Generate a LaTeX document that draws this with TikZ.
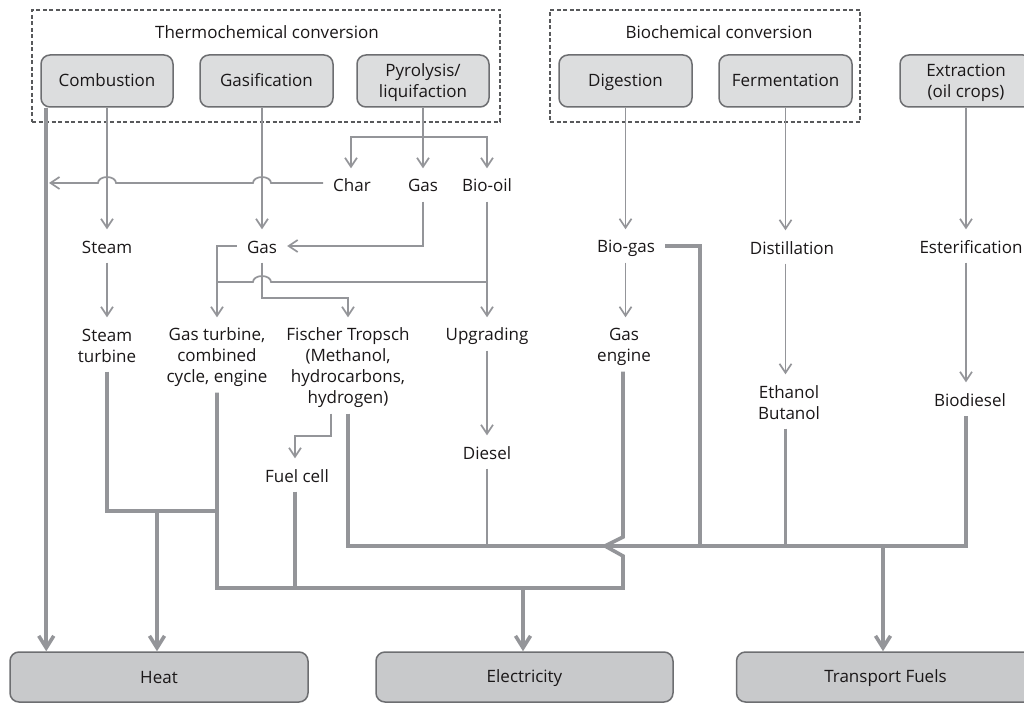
\documentclass[tikz,border=0pt]{standalone}
\usepackage{fontspec}
\setmainfont{Open Sans}
\usetikzlibrary{arrows.meta,calc}
\definecolor{ln}{HTML}{949599}
\definecolor{bd}{HTML}{6D6E71}
\definecolor{fa}{HTML}{DCDDDE}
\definecolor{fb}{HTML}{C8C9CB}
\definecolor{tx}{HTML}{1A1718}
\definecolor{ds}{HTML}{58595B}
\newcommand\lstr{\rule[-4pt]{0pt}{22pt}}
\newcommand\bstr{\rule[-4pt]{0pt}{20pt}}
\begin{document}
\setlength{\lineskiplimit}{-30pt}
\begin{tikzpicture}[x=1pt,y=-1pt,
  every node/.style={text=tx, font=\fontsize{17}{21}\selectfont},
  lbl/.style={align=center, inner xsep=10pt, inner ysep=5.5pt},
  procbox/.style={draw=bd, line width=1.5pt, fill=fa, rounded corners=9pt, minimum width=132pt, minimum height=52pt, align=center, inner sep=0pt},
  outbox/.style={procbox, fill=fb, minimum width=298pt, minimum height=50pt},
  group/.style={draw=ds, line width=1.2pt, dash pattern=on 4pt off 2.5pt, minimum height=112pt, inner sep=0pt},
  flow/.style={draw=ln, line width=1.7pt},
  flowarr/.style={flow, -{Straight Barb[length=9pt,width=12pt]}},
  main/.style={draw=ln, line width=3.6pt},
  mainarr/.style={main, -{Straight Barb[length=12pt,width=15pt]}}
]
\useasboundingbox (0,0) rectangle (1024,703);
\clip (0,0) rectangle (1024,703);

% groups
\node[group, minimum width=468pt] (thermo) at (266,66) {};
\node[group, minimum width=310pt] (bio) at (705,66) {};
\node (thermot) at (267,33) {Thermochemical conversion\bstr};
\node (biot) at (719,33) {Biochemical conversion\bstr};

% process boxes
\node[procbox] (comb) at (107,81) {Combustion\bstr};
\node[procbox, minimum width=133pt] (gasif) at (266.5,81) {Gasification\bstr};
\node[procbox] (pyro) at (423,81) {Pyrolysis/\bstr\\liquifaction\bstr};
\node[procbox, minimum width=133pt] (dig) at (625.5,81) {Digestion\bstr};
\node[procbox, minimum width=133pt] (ferm) at (785.5,81) {Fermentation\bstr};
\node[procbox] (ext) at (966,81) {Extraction\bstr\\(oil crops)\bstr};

% labels
\node[lbl] (char) at (352,185) {Char\lstr};
\node[lbl] (gasa) at (423,185) {Gas\lstr};
\node[lbl] (oil) at (487,185) {Bio-oil\lstr};
\node[lbl] (steam) at (107,246) {Steam\lstr};
\node[lbl] (gasb) at (262,246) {Gas\lstr};
\node[lbl] (biogas) at (626,246) {Bio-gas\lstr};
\node[lbl] (dist) at (792,247) {Distillation\lstr};
\node[lbl] (ester) at (971,246) {Esterification\lstr};
\node[lbl] (sturb) at (107,344.5) {Steam\lstr\\turbine\lstr};
\node[lbl] (gturb) at (217,355) {Gas turbine,\lstr\\combined\lstr\\cycle, engine\lstr};
\node[lbl] (ft) at (348,365.5) {Fischer Tropsch\lstr\\(Methanol,\lstr\\hydrocarbons,\lstr\\hydrogen)\lstr};
\node[lbl] (upg) at (487,334) {Upgrading\lstr};
\node[lbl] (geng) at (624,344.5) {Gas\lstr\\engine\lstr};
\node[lbl] (eth) at (789,401.5) {Ethanol\lstr\\Butanol\lstr};
\node[lbl] (biod) at (970,399) {Biodiesel\lstr};
\node[lbl] (dies) at (487,452) {Diesel\lstr};
\node[lbl] (fcell) at (297,475) {Fuel cell\lstr};

% outputs
\node[outbox] (heat) at (159,677) {Heat\bstr};
\node[outbox, minimum width=297pt] (elec) at (524.5,677) {Electricity\bstr};
\node[outbox] (trans) at (885.5,677) {Transport Fuels\bstr};

% junction coordinates
\coordinate (pyj) at (423,137);
\coordinate (hj) at (49,183);
\coordinate (oj) at (487,282);
\coordinate (gj) at (217,282);
\coordinate (fj) at (262,298);
\coordinate (sj) at (217,511);
\coordinate (hs) at (157,511);
\coordinate (eb) at (623,588);
\coordinate (es) at (523,588);
\coordinate (tb) at (966,546);
\coordinate (ts) at (883,546);
\coordinate (bg) at (700,546);

% thin flows
\draw[flowarr] (comb.south) -- (steam.north);
\draw[flowarr] (gasb.north |- gasif.south) -- (gasb.north);
\draw[flowarr] (pyro.south) -- (gasa.north);
\draw[flowarr] (pyj) -| ([xshift=-1pt]char.north);
\draw[flowarr] (pyj) -| (oil.north);
\draw[flowarr] ([yshift=2pt]char.west) -- (271,183)
  arc[start angle=0, end angle=-180, x radius=9, y radius=6] -- (116,183)
  arc[start angle=0, end angle=-180, x radius=9, y radius=6] -- (hj);
\draw[flowarr] (gasa.south) |- (gasb.east);
\draw[flowarr] (gasb.west) -| (gturb.north);
\draw[flowarr] (gasb.south) -- (fj) -| (ft.north);
\draw[flowarr] (oil.south) -- (upg.north);
\draw[flow] (oj) -- (271,282)
  arc[start angle=0, end angle=-180, x radius=9, y radius=6] -- (gj);
\draw[flowarr] (steam.south) -- (sturb.north);
\draw[flowarr] (upg.south) -- (dies.north);
\draw[flowarr] ([xshift=-17pt]ft.south) -- ++(0,22) -| ([xshift=-2pt]fcell.north);
\draw[flowarr] (ferm.south) -- (ferm.south |- dist.north);
\draw[flowarr] (ferm.south |- dist.south) -- (ferm.south |- eth.north);
\draw[flowarr] (ext.south) -- (ext.south |- ester.north);
\draw[flowarr] (ext.south |- ester.south) -- (ext.south |- biod.north);
\draw[flowarr] (dig.south) -- (dig.south |- biogas.north);
\draw[flowarr] (dig.south |- biogas.south) -- (dig.south |- geng.north);
\draw[flow, line width=1.3pt] (dies.south) -- (dies.south |- tb);

% thick flows
\draw[mainarr] ([xshift=6pt]comb.south west) -- ([xshift=6pt]comb.south west |- heat.north);
\draw[main] (sturb.south) |- (sj);
\draw[mainarr] (hs) -- (hs |- heat.north);
\draw[main] (geng.south -| eb) -- (623,537) -- (605,546) -- (623,556) -- (eb) -| (gturb.south);
\draw[main] ([xshift=-2pt]fcell.south) -- ([xshift=-2pt]fcell.south |- eb);
\draw[mainarr] (es) -- (es |- elec.north);
\draw[main] (ft.south) |- (tb) -- (tb |- biod.south);
\draw[main] (ferm.south |- eth.south) -- (ferm.south |- tb);
\draw[main] (biogas.east) -| (bg);
\draw[mainarr] (ts) -- (ts |- trans.north);
\end{tikzpicture}
\end{document}
